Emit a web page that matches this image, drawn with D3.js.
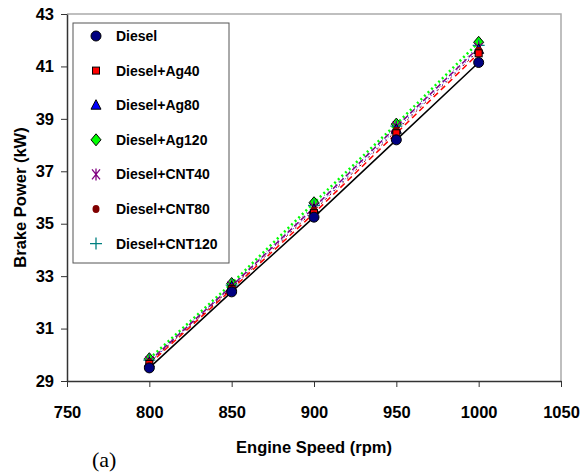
<!DOCTYPE html>
<html>
<head>
<meta charset="utf-8">
<script src="https://cdn.jsdelivr.net/npm/d3@7"></script>
<style>
  body { margin: 0; background: #fff; }
  svg text { font-family: "Liberation Sans", Arial, sans-serif; font-weight: bold; }
</style>
</head>
<body>
<svg id="chart" width="580" height="476"></svg>
<script>
// engine speed (rpm)
var speeds = [800, 850, 900, 950, 1000];
// brake power (kW)
var diesel     = [29.50, 32.40, 35.25, 38.20, 41.15];
var dieselAg40 = [29.65, 32.50, 35.40, 38.45, 41.50];
var dieselAg80 = [29.70, 32.60, 35.55, 38.60, 41.65];
var dieselAg120 = [29.85, 32.72, 35.80, 38.80, 41.92];
var dieselCNT40 = [29.75, 32.62, 35.62, 38.70, 41.72];
var dieselCNT80 = [29.70, 32.55, 35.50, 38.55, 41.60];
var dieselCNT120 = [29.80, 32.66, 35.70, 38.72, 41.80];

var seriesNames = ["Diesel", "Diesel+Ag40", "Diesel+Ag80", "Diesel+Ag120", "Diesel+CNT40", "Diesel+CNT80", "Diesel+CNT120"];
var xTicks = [750, 800, 850, 900, 950, 1000, 1050];
var yTicks = [29, 31, 33, 35, 37, 39, 41, 43];

var allValues = [diesel, dieselAg40, dieselAg80, dieselAg120, dieselCNT40, dieselCNT80, dieselCNT120];

// look of each series
var styles = [
  {marker: "circle",   fill: "#000080", stroke: "#000", line: "#000",    dash: null,  lw: 1.5},
  {marker: "square",   fill: "#ff0000", stroke: "#000", line: "#ff0000", dash: "6,4", lw: 1.5},
  {marker: "triangle", fill: "#0000ff", stroke: "#000", line: "#0000ff", dash: "1,3", lw: 1},
  {marker: "diamond",  fill: "#00ff00", stroke: "#000", line: "#00ff00", dash: "2,3", lw: 2.5},
  {marker: "star",     fill: "none",    stroke: "#800080", line: "#800080", dash: "6,3", lw: 1.5},
  {marker: "dot",      fill: "#800000", stroke: "#800000", line: "#800000", dash: "2,4", lw: 1},
  {marker: "plus",     fill: "none",    stroke: "#008080", line: "#008080", dash: "1,4", lw: 1}
];

var margin = {top: 14, right: 19, bottom: 95, left: 67};
var width = 580 - margin.left - margin.right,
    height = 476 - margin.top - margin.bottom;

var svg = d3.select("svg#chart");
var g = svg.append("g").attr("transform", "translate(" + margin.left + "," + margin.top + ")");

var xScale = d3.scaleLinear().domain([750, 1050]).range([0, width]);
var yScale = d3.scaleLinear().domain([29, 43]).range([height, 0]);

// grey frame top/right
g.append("path")
  .attr("d", "M0,0H" + width + "V" + height)
  .attr("fill", "none").attr("stroke", "#aaa").attr("stroke-width", 1.5);

var xAxis = g.append("g")
  .attr("transform", "translate(0," + height + ")")
  .call(d3.axisBottom(xScale).tickValues(xTicks).tickFormat(d3.format("d"))
    .tickSize(6).tickPadding(19).tickSizeOuter(0));
var yAxis = g.append("g")
  .call(d3.axisLeft(yScale).tickValues(yTicks).tickFormat(d3.format("d"))
    .tickSize(6).tickPadding(7).tickSizeOuter(0));

[xAxis, yAxis].forEach(function(ax) {
  ax.select(".domain").attr("stroke", "#333").attr("stroke-width", 1.5);
  ax.selectAll(".tick line").attr("stroke", "#333");
  ax.selectAll("text").attr("font-size", 16.5).attr("fill", "#000");
});

// axis titles
svg.append("text")
  .attr("x", margin.left + xScale(900)).attr("y", 453)
  .attr("text-anchor", "middle").attr("font-size", 16.5)
  .text("Engine Speed (rpm)");
svg.append("text")
  .attr("transform", "translate(26," + (margin.top + height / 2) + ") rotate(-90)")
  .attr("text-anchor", "middle").attr("font-size", 16.5)
  .text("Brake Power (kW)");
svg.append("text")
  .attr("x", 92).attr("y", 467)
  .attr("font-size", 22)
  .style("font-family", "'Liberation Serif', 'Times New Roman', serif").style("font-weight", "normal")
  .text("(a)");

// draws one marker centred at 0,0
function drawMarker(sel, st) {
  if (st.marker === "circle") {
    sel.append("circle").attr("r", 5).attr("fill", st.fill).attr("stroke", st.stroke).attr("stroke-width", 1);
  } else if (st.marker === "square") {
    sel.append("rect").attr("x", -3.5).attr("y", -3.5).attr("width", 7).attr("height", 7)
      .attr("fill", st.fill).attr("stroke", st.stroke).attr("stroke-width", 1);
  } else if (st.marker === "triangle") {
    sel.append("path").attr("d", "M0,-5.5L5,4L-5,4Z").attr("fill", st.fill).attr("stroke", st.stroke).attr("stroke-width", 1);
  } else if (st.marker === "diamond") {
    sel.append("path").attr("d", "M0,-6L5,0L0,6L-5,0Z").attr("fill", st.fill).attr("stroke", st.stroke).attr("stroke-width", 1);
  } else if (st.marker === "star") {
    sel.append("path").attr("d", "M-4,-5L4,5M4,-5L-4,5M0,-6V6").attr("stroke", st.stroke).attr("stroke-width", 1.3);
  } else if (st.marker === "dot") {
    sel.append("ellipse").attr("rx", 3.5).attr("ry", 4).attr("fill", st.fill);
  } else if (st.marker === "plus") {
    sel.append("path").attr("d", "M-6,0H6M0,-6V6").attr("stroke", st.stroke).attr("stroke-width", 1.3);
  }
}

var line = d3.line()
  .x(function(d, i) { return xScale(speeds[i]); })
  .y(function(d) { return yScale(d); });

// lines
allValues.forEach(function(vals, k) {
  var st = styles[k];
  g.append("path").datum(vals)
    .attr("fill", "none").attr("stroke", st.line).attr("stroke-width", st.lw)
    .attr("stroke-dasharray", st.dash).attr("d", line);
});

// markers, Diesel drawn last so it sits on top
[3, 6, 4, 2, 5, 1, 0].forEach(function(k) {
  var st = styles[k];
  allValues[k].forEach(function(v, i) {
    var m = g.append("g").attr("transform", "translate(" + xScale(speeds[i]) + "," + yScale(v) + ")");
    drawMarker(m, st);
  });
});

// legend
var legend = svg.append("g").attr("transform", "translate(73,23)");
legend.append("rect").attr("width", 156).attr("height", 240)
  .attr("fill", "#fff").attr("stroke", "#555").attr("stroke-width", 1);
seriesNames.forEach(function(name, k) {
  var row = legend.append("g").attr("transform", "translate(23," + (13 + k * 34.6) + ")");
  drawMarker(row, styles[k]);
  row.append("text").attr("x", 20).attr("y", 5).attr("font-size", 14).text(name);
});
</script>
</body>
</html>
